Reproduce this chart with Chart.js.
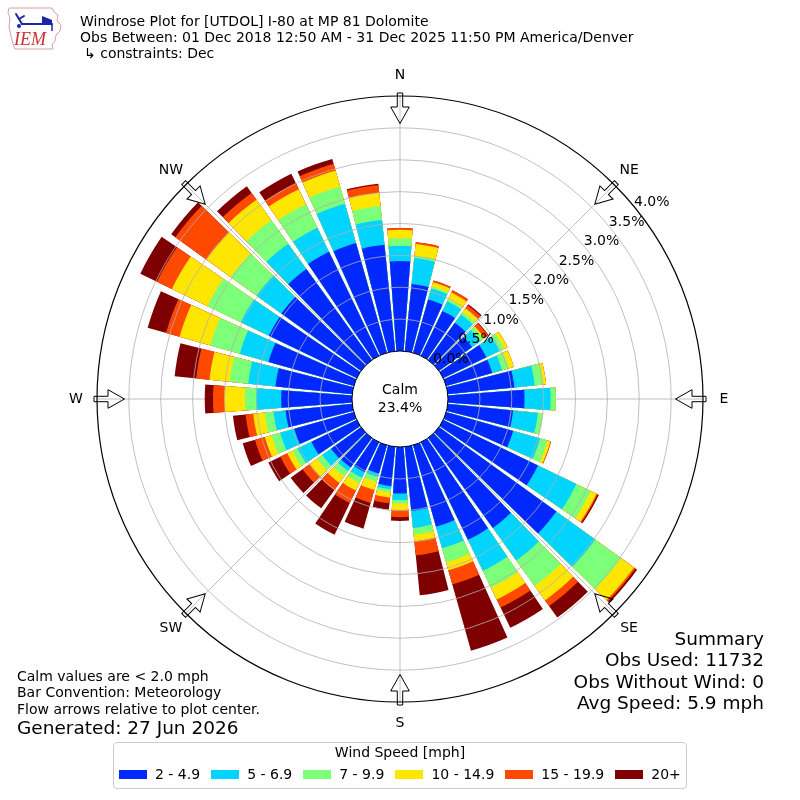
<!DOCTYPE html>
<html>
<head>
<meta charset="utf-8">
<script src="https://cdn.jsdelivr.net/npm/chart.js@4.4.1/dist/chart.umd.min.js"></script>
<style>
  body { margin: 0; background: #fff; }
  #wrap { position: relative; width: 800px; height: 800px; font-family: "DejaVu Sans", sans-serif; color: #000; overflow: hidden; }
  #wrap canvas { position: absolute; left: 0; top: 0; }
  .txt { position: absolute; white-space: nowrap; font-size: 14px; line-height: normal; }
  .big { font-size: 18.5px; }
  .right { text-align: right; right: 36px; }
  #legendBox { position: absolute; left: 113px; top: 742px; width: 572px; height: 45px; border: 1px solid #cccccc; border-radius: 4px; background: rgba(255,255,255,0.8); }
  #legendItems { position: absolute; left: 119px; top: 766px; display: flex; align-items: center; font-size: 14px; line-height: normal; }
  #legendItems .sw { width: 28px; height: 9px; margin-right: 8px; }
  #legendItems .lb { margin-right: 11px; white-space: nowrap; }
</style>
</head>
<body>
<div id="wrap">
  <canvas id="rose" width="800" height="800"></canvas>

  <svg style="position:absolute;left:4px;top:4px" width="62" height="48" viewBox="0 0 62 48">
    <path d="M5 4 L48 4 L50 8 L54 11 L53 17 L57 21 L56 27 L52 31 L51 37 L48 40 L49 45 L11 45 L9 40 L7 32 L5 23 L6 14 L4 9 Z" fill="#fff" stroke="#d9a0a0" stroke-width="1"/>
    <g stroke="#1c24a8" stroke-width="2" fill="none" stroke-linecap="round">
      <line x1="18" y1="20" x2="48" y2="20"/>
      <line x1="18" y1="20" x2="12" y2="10"/>
      <line x1="15" y1="15" x2="20" y2="12"/>
    </g>
    <path d="M38 12 L48 16 L48 20 L38 20 Z" fill="#1c24a8"/>
    <circle cx="15" cy="22" r="2" fill="#1c24a8"/>
    <line x1="48" y1="20" x2="48" y2="27" stroke="#1c24a8" stroke-width="1.5"/>
    <text x="10" y="41" font-family="Liberation Serif" font-style="italic" font-size="18" fill="#c83232">IEM</text>
  </svg>

  <div class="txt" style="left:80px;top:12.7px">Windrose Plot for [UTDOL] I-80 at MP 81 Dolomite</div>
  <div class="txt" style="left:80px;top:28.7px">Obs Between: 01 Dec 2018 12:50 AM - 31 Dec 2025 11:50 PM America/Denver</div>
  <div class="txt" style="left:84px;top:45.3px">↳ constraints: Dec</div>

  <div class="txt" style="left:17px;top:667.7px">Calm values are &lt; 2.0 mph</div>
  <div class="txt" style="left:17px;top:684.3px">Bar Convention: Meteorology</div>
  <div class="txt" style="left:17px;top:701px">Flow arrows relative to plot center.</div>
  <div class="txt big" style="left:17px;top:716.8px">Generated: 27 Jun 2026</div>

  <div class="txt big right" style="top:627.8px">Summary</div>
  <div class="txt big right" style="top:649.3px">Obs Used: 11732</div>
  <div class="txt big right" style="top:670.8px">Obs Without Wind: 0</div>
  <div class="txt big right" style="top:692.3px">Avg Speed: 5.9 mph</div>

  <div id="legendBox"></div>
  <div class="txt" style="left:113px;width:574px;text-align:center;top:744.3px">Wind Speed [mph]</div>
  <div id="legendItems"></div>
</div>

<script>
// direction the wind blows from, degrees
const directions = [0, 10, 20, 30, 40, 50, 60, 70, 80, 90, 100, 110, 120, 130, 140, 150, 160, 170,
                    180, 190, 200, 210, 220, 230, 240, 250, 260, 270, 280, 290, 300, 310, 320, 330, 340, 350];
const speedBins = ["2 - 4.9", "5 - 6.9", "7 - 9.9", "10 - 14.9", "15 - 19.9", "20+"];
const binColors = ["#0028ff", "#00d4ff", "#7cff79", "#ffe600", "#ff4800", "#7f0000"];

// percent of all obs, per direction, per speed bin
const pct2to5 = [1.41, 1.06, 0.87, 0.78, 0.72, 0.64, 0.75, 0.75, 1.05, 1.20, 1.03, 1.09, 1.65, 2.27, 1.74, 1.70, 1.33, 1.01,
                 0.73, 0.62, 0.46, 0.52, 0.57, 0.58, 0.79, 0.97, 1.05, 1.11, 1.21, 1.39, 1.53, 1.54, 1.76, 1.81, 1.79, 1.68];
const pct5to7 = [0.24, 0.41, 0.18, 0.17, 0.16, 0.16, 0.23, 0.16, 0.32, 0.41, 0.39, 0.44, 0.67, 0.75, 0.63, 0.54, 0.35, 0.27,
                 0.10, 0.05, 0.06, 0.10, 0.07, 0.17, 0.24, 0.23, 0.19, 0.39, 0.43, 0.47, 0.49, 0.48, 0.49, 0.42, 0.64, 0.39];
const pct7to10 = [0.12, 0.03, 0.03, 0.03, 0.05, 0.06, 0.08, 0.11, 0.13, 0.08, 0.07, 0.12, 0.25, 0.50, 0.49, 0.29, 0.23, 0.11,
                  0.06, 0.05, 0.08, 0.09, 0.10, 0.10, 0.09, 0.14, 0.14, 0.18, 0.29, 0.48, 0.58, 0.50, 0.45, 0.41, 0.28, 0.22];
const pct10to15 = [0.13, 0.19, 0.07, 0.12, 0.07, 0.02, 0.06, 0.08, 0.05, 0.00, 0.00, 0.05, 0.10, 0.25, 0.28, 0.21, 0.13, 0.10,
                   0.10, 0.08, 0.13, 0.13, 0.13, 0.14, 0.09, 0.11, 0.18, 0.32, 0.32, 0.50, 0.62, 0.47, 0.40, 0.26, 0.26, 0.21];
const pct15to20 = [0.03, 0.03, 0.03, 0.04, 0.06, 0.07, 0.00, 0.00, 0.00, 0.00, 0.00, 0.01, 0.02, 0.03, 0.11, 0.14, 0.23, 0.22,
                   0.11, 0.09, 0.21, 0.22, 0.14, 0.14, 0.12, 0.16, 0.12, 0.18, 0.21, 0.22, 0.26, 0.60, 0.13, 0.11, 0.11, 0.12];
const pct20plus = [0.00, 0.00, 0.00, 0.00, 0.02, 0.01, 0.00, 0.00, 0.00, 0.00, 0.00, 0.00, 0.02, 0.03, 0.22, 0.35, 1.08, 0.63,
                   0.06, 0.10, 0.42, 0.55, 0.35, 0.23, 0.21, 0.20, 0.20, 0.13, 0.34, 0.30, 0.29, 0.08, 0.13, 0.16, 0.08, 0.02];

const ringTicks = [0, 0.5, 1.0, 1.5, 2.0, 2.5, 3.0, 3.5, 4.0];
const compassLabels = ["N", "NE", "E", "SE", "S", "SW", "W", "NW"];
const calmPct = 23.4;

const seriesByBin = [pct2to5, pct5to7, pct7to10, pct10to15, pct15to20, pct20plus];
const barDeg = 8.5;
const gapDeg = 10 - barDeg;

// polarArea can't stack, so each bin is drawn as the running total and
// the smaller totals sit on top (dataset 0 is drawn last)
const datasets = speedBins.map((label, k) => {
  const data = [];
  directions.forEach((d, i) => {
    let total = 0;
    for (let j = 0; j <= k; j++) total += seriesByBin[j][i];
    data.push(total, 0); // bar, then the empty gap slice
  });
  return {
    label: label,
    data: data,
    borderWidth: 0,
    backgroundColor: c => c.dataIndex % 2 ? "rgba(0,0,0,0)" : binColors[k],
    angle: c => c.dataIndex % 2 ? gapDeg : barDeg
  };
});

function drawArrow(ctx, cx, cy, R, deg) {
  ctx.save();
  ctx.translate(cx, cy);
  ctx.rotate(deg * Math.PI / 180);
  ctx.beginPath();
  ctx.moveTo(-2.7, -(R + 3));
  ctx.lineTo(2.7, -(R + 3));
  ctx.lineTo(2.7, -(R - 11));
  ctx.lineTo(9.3, -(R - 11));
  ctx.lineTo(0, -(R - 27.5));
  ctx.lineTo(-9.3, -(R - 11));
  ctx.lineTo(-2.7, -(R - 11));
  ctx.closePath();
  ctx.strokeStyle = "#000";
  ctx.lineWidth = 1;
  ctx.stroke();
  ctx.restore();
}

const roseDecor = {
  id: "roseDecor",
  beforeDatasetsDraw(chart) {
    const s = chart.scales.r, ctx = chart.ctx;
    ctx.save();
    ctx.strokeStyle = "#b0b0b0";
    ctx.lineWidth = 0.8;
    for (let a = 0; a < 360; a += 45) {
      const t = a * Math.PI / 180;
      ctx.beginPath();
      ctx.moveTo(s.xCenter, s.yCenter);
      ctx.lineTo(s.xCenter + s.drawingArea * Math.sin(t), s.yCenter - s.drawingArea * Math.cos(t));
      ctx.stroke();
    }
    ctx.restore();
  },
  afterDraw(chart) {
    const s = chart.scales.r, ctx = chart.ctx;
    const cx = s.xCenter, cy = s.yCenter, R = s.drawingArea;
    ctx.save();

    // calm circle
    const rc = s.getDistanceFromCenterForValue(0);
    ctx.beginPath();
    ctx.arc(cx, cy, rc, 0, Math.PI * 2);
    ctx.fillStyle = "#fff";
    ctx.fill();
    ctx.strokeStyle = "#000";
    ctx.lineWidth = 1;
    ctx.stroke();

    ctx.fillStyle = "#000";
    ctx.font = '14px "DejaVu Sans"';
    ctx.textAlign = "center";
    ctx.textBaseline = "middle";
    ctx.fillText("Calm", cx, cy - 9);
    ctx.fillText(calmPct.toFixed(1) + "%", cx, cy + 9);

    // ring labels
    const la = 52 * Math.PI / 180;
    ringTicks.forEach(v => {
      const r = s.getDistanceFromCenterForValue(v) + 16.5;
      ctx.fillText(v.toFixed(1) + "%", cx + r * Math.sin(la), cy - r * Math.cos(la));
    });

    // compass arrows and names
    compassLabels.forEach((name, i) => {
      const deg = i * 45;
      drawArrow(ctx, cx, cy, R, deg);
      const t = deg * Math.PI / 180, r = R + 21;
      ctx.fillText(name, cx + r * Math.sin(t), cy - r * Math.cos(t));
    });
    ctx.restore();
  }
};

new Chart(document.getElementById("rose"), {
  type: "polarArea",
  data: {
    labels: directions.flatMap(d => [d + "°", ""]),
    datasets: datasets
  },
  options: {
    responsive: false,
    animation: false,
    events: [],
    layout: { padding: { left: 97, right: 97, top: 96, bottom: 98 } },
    plugins: { legend: { display: false }, tooltip: { enabled: false } },
    scales: {
      r: {
        min: -0.753,
        max: 4.0,
        startAngle: -barDeg / 2,
        ticks: { display: false, stepSize: 0.5 },
        pointLabels: { display: false },
        angleLines: { display: false },
        grid: {
          z: 1,
          circular: true,
          color: c => c.tick.value >= 4 ? "#000" : (c.tick.value <= 0 ? "rgba(0,0,0,0)" : "#b0b0b0"),
          lineWidth: c => c.tick.value >= 4 ? 1.2 : 0.8
        }
      }
    }
  },
  plugins: [roseDecor]
});

// legend
const legendItems = document.getElementById("legendItems");
speedBins.forEach((label, k) => {
  const sw = document.createElement("span");
  sw.className = "sw";
  sw.style.background = binColors[k];
  const lb = document.createElement("span");
  lb.className = "lb";
  lb.textContent = label;
  legendItems.appendChild(sw);
  legendItems.appendChild(lb);
});
</script>
</body>
</html>
